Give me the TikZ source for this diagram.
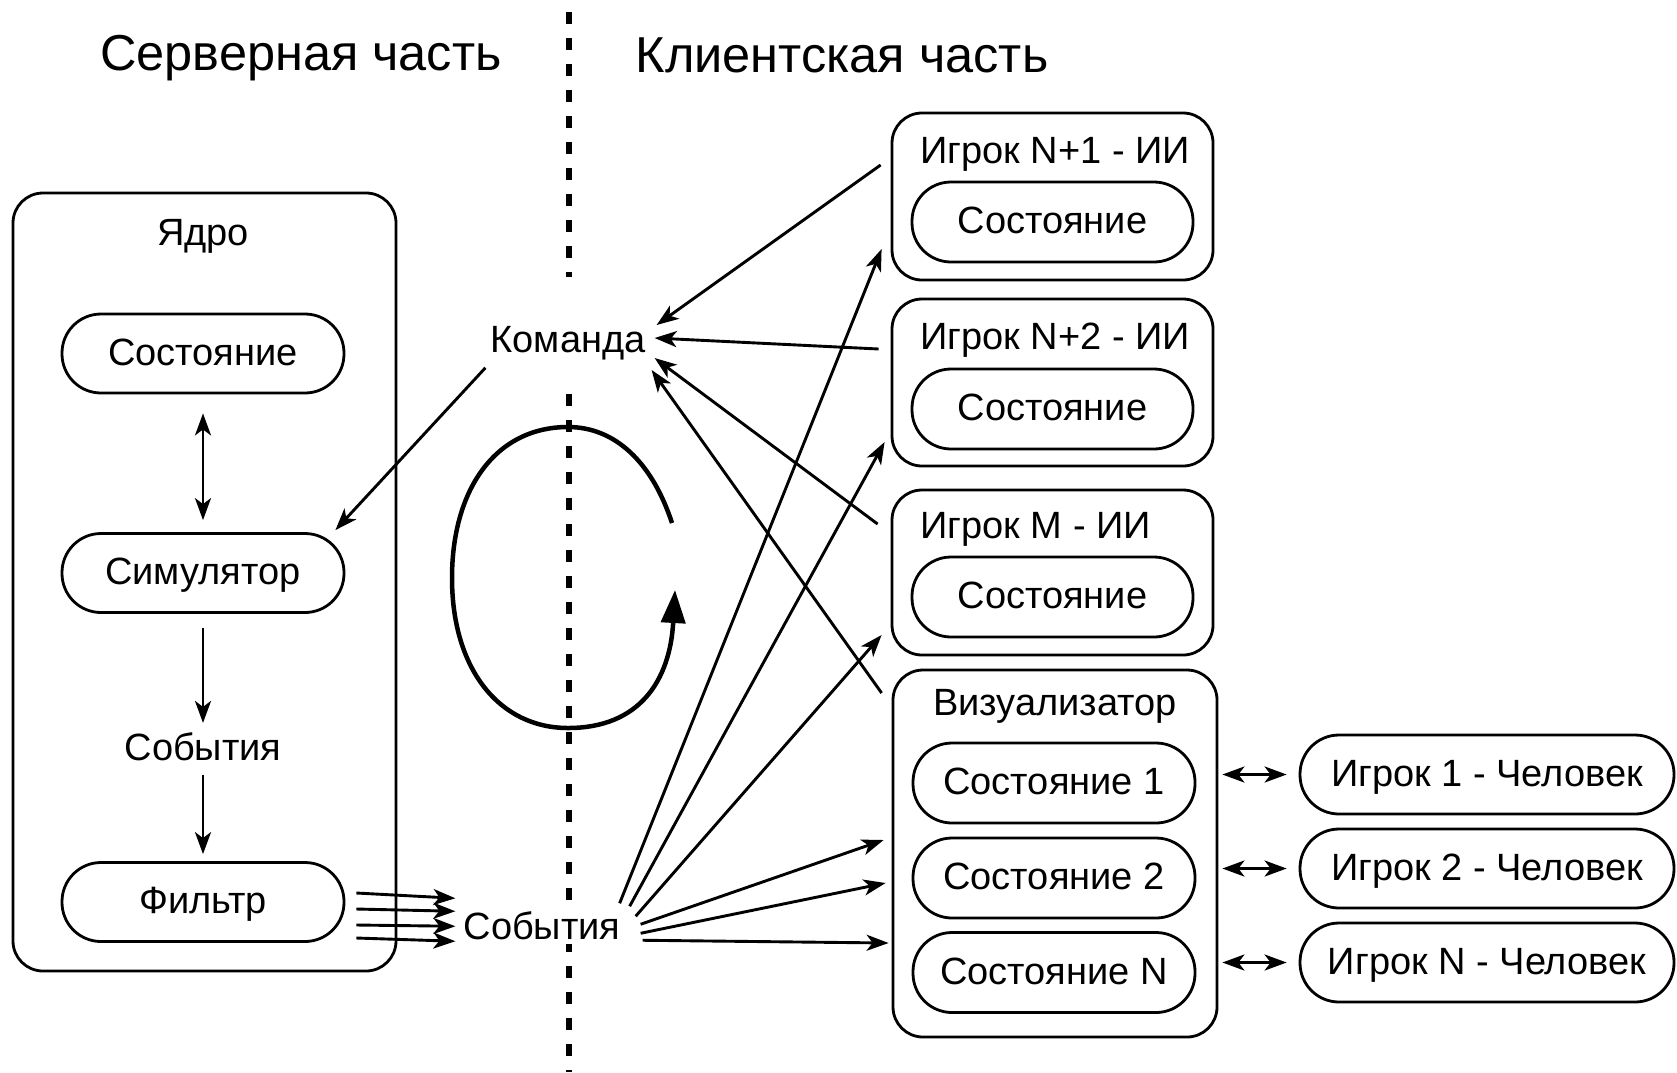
\documentclass[tikz,border=0pt]{standalone}
\usepackage{fontspec}
\setmainfont{Liberation Sans}
\usetikzlibrary{arrows.meta}
\begin{document}
\begin{tikzpicture}[x=1pt,y=-1pt,
  txt/.style={font=\fontsize{38}{44}\selectfont, inner sep=0pt, anchor=base},
  ttl/.style={font=\fontsize{50.5}{58}\selectfont, inner sep=0pt, anchor=base},
  pill/.style={draw, line width=2.8pt, rounded corners=39pt, minimum width=282pt, minimum height=79pt, inner sep=0pt, text height=23pt, text depth=0pt, font=\fontsize{38}{44}\selectfont},
  cont/.style={draw, line width=2.8pt, rounded corners=30pt, inner sep=0pt},
  tip/.tip={Stealth[length=22pt,width=16pt,inset=6pt]},
  arr/.style={line width=2.9pt, -tip},
  darr/.style={line width=2.9pt, tip-tip},
  sepline/.style={line width=5.5pt, dash pattern=on 12pt off 14pt},
  cyc/.style={line width=4.5pt, -{Triangle[length=33pt,width=24pt]}},
]
\useasboundingbox (0,0) rectangle (1677,1072);

% titles
\node[ttl] (tserv) at (301,70) {Серверная часть};
\node[ttl] (tcli) at (842,72) {Клиентская часть};

% separator
\coordinate (s1) at (569,12);
\coordinate (s2) at (569,277);
\coordinate (s3) at (569,394);
\coordinate (s4) at (569,1072);
\draw[sepline] (s1) -- (s2);
\draw[sepline] (s3) -- (s4);

% server core
\node[cont, minimum width=383pt, minimum height=778pt] (core) at (204.5,582) {};
\node[txt] (tcore) at (203,245) {Ядро};
\node[pill] (st) at (203,353.5) {Состояние};
\node[pill] (sim) at (203,573) {Симулятор};
\node[txt] (ev1) at (203,760) {События};
\node[pill] (filt) at (203,902) {Фильтр};

\draw[darr] ([shift={(0,19)}]st.south) -- ([shift={(0,-12)}]sim.north);
\draw[arr] ([shift={(0,14)}]sim.south) -- ([shift={(0,-9)}]ev1.north);
\draw[arr] ([shift={(0,14)}]ev1.south) -- ([shift={(0,-7)}]filt.north);

% middle
\node[txt] (cmd) at (568,352) {Команда};
\node[txt, fill=white, inner sep=5pt] (ev) at (542,939) {События};

\draw[arr] ([shift={(-5,8)}]cmd.south west) -- ([shift={(-10,-2)}]sim.north east);

\draw[arr] ([shift={(11,-9)}]filt.east) -- ([shift={(-3,-27)}]ev.west);
\draw[arr] ([shift={(11,7)}]filt.east) -- ([shift={(-3,-14)}]ev.west);
\draw[arr] ([shift={(11,23)}]filt.east) -- ([shift={(-3,1)}]ev.west);
\draw[arr] ([shift={(11,36)}]filt.east) -- ([shift={(-3,16)}]ev.west);

% cycle
\coordinate (c0) at (672,523);
\coordinate (c1) at (568,427);
\coordinate (c2) at (452,578);
\coordinate (c3) at (568,728);
\coordinate (c4) at (675,590);
\draw[cyc] (c0) .. controls (652,462) and (615,427) .. (c1)
  .. controls (495,427) and (452,490) .. (c2)
  .. controls (452,670) and (500,728) .. (c3)
  .. controls (640,728) and (670,680) .. (c4);

% client AI boxes
\node[cont, minimum width=321pt, minimum height=167pt] (ai1) at (1052.5,196.5) {};
\node[txt, anchor=base west] (tai1) at (920,163) {Игрок N+1 - ИИ};
\node[pill, minimum width=281pt, minimum height=80pt] (sai1) at (1052.5,222) {Состояние};

\node[cont, minimum width=321pt, minimum height=167pt] (ai2) at (1052.5,382.5) {};
\node[txt, anchor=base west] (tai2) at (920,349) {Игрок N+2 - ИИ};
\node[pill, minimum width=281pt, minimum height=80pt] (sai2) at (1052.5,409) {Состояние};

\node[cont, minimum width=321pt, minimum height=165pt] (ai3) at (1052.5,572.5) {};
\node[txt, anchor=base west] (tai3) at (920,538) {Игрок M - ИИ};
\node[pill, minimum width=281pt, minimum height=80pt] (sai3) at (1052.5,597) {Состояние};

% visualizer
\node[cont, minimum width=324pt, minimum height=367pt] (vis) at (1055,853.5) {};
\node[txt] (tvis) at (1055,715) {Визуализатор};
\node[pill, minimum width=282pt, minimum height=80pt] (vs1) at (1054,783) {Состояние 1};
\node[pill, minimum width=282pt, minimum height=80pt] (vs2) at (1054,878) {Состояние 2};
\node[pill, minimum width=282pt, minimum height=80pt] (vs3) at (1054,972.5) {Состояние N};

% humans
\node[pill, minimum width=374pt, minimum height=79pt] (h1) at (1487,774.5) {Игрок 1 - Человек};
\node[pill, minimum width=374pt, minimum height=79pt] (h2) at (1487,868.5) {Игрок 2 - Человек};
\node[pill, minimum width=374pt, minimum height=79pt] (h3) at (1487,962.5) {Игрок N - Человек};

\draw[darr, shorten <=4pt, shorten >=12pt] (vis.east |- h1.west) -- (h1.west);
\draw[darr, shorten <=4pt, shorten >=12pt] (vis.east |- h2.west) -- (h2.west);
\draw[darr, shorten <=4pt, shorten >=12pt] (vis.east |- h3.west) -- (h3.west);

% commands to Команда
\draw[arr] ([shift={(-10,-31.5)}]ai1.west) -- ([shift={(11,-27)}]cmd.base east);
\draw[arr] ([shift={(-12,-33.5)}]ai2.west) -- ([shift={(9,-14)}]cmd.base east);
\draw[arr] ([shift={(-13,-48.5)}]ai3.west) -- ([shift={(9,6)}]cmd.base east);
\draw[arr] ([shift={(-10,-160.5)}]vis.west) -- ([shift={(6,18)}]cmd.base east);

% events to clients
\draw[arr] ([shift={(-6,-22)}]ev.east) -- ([shift={(-9,52.5)}]ai1.west);
\draw[arr] ([shift={(4,-19)}]ev.east) -- ([shift={(-6,59.5)}]ai2.west);
\draw[arr] ([shift={(10,-9)}]ev.east) -- ([shift={(-9,62.5)}]ai3.west);
\draw[arr] ([shift={(15,-1)}]ev.east) -- ([shift={(-8,-13.5)}]vis.west);
\draw[arr] ([shift={(15,8)}]ev.east) -- ([shift={(-6,29.5)}]vis.west);
\draw[arr] ([shift={(17,15)}]ev.east) -- ([shift={(-3,89.5)}]vis.west);
\end{tikzpicture}
\end{document}
